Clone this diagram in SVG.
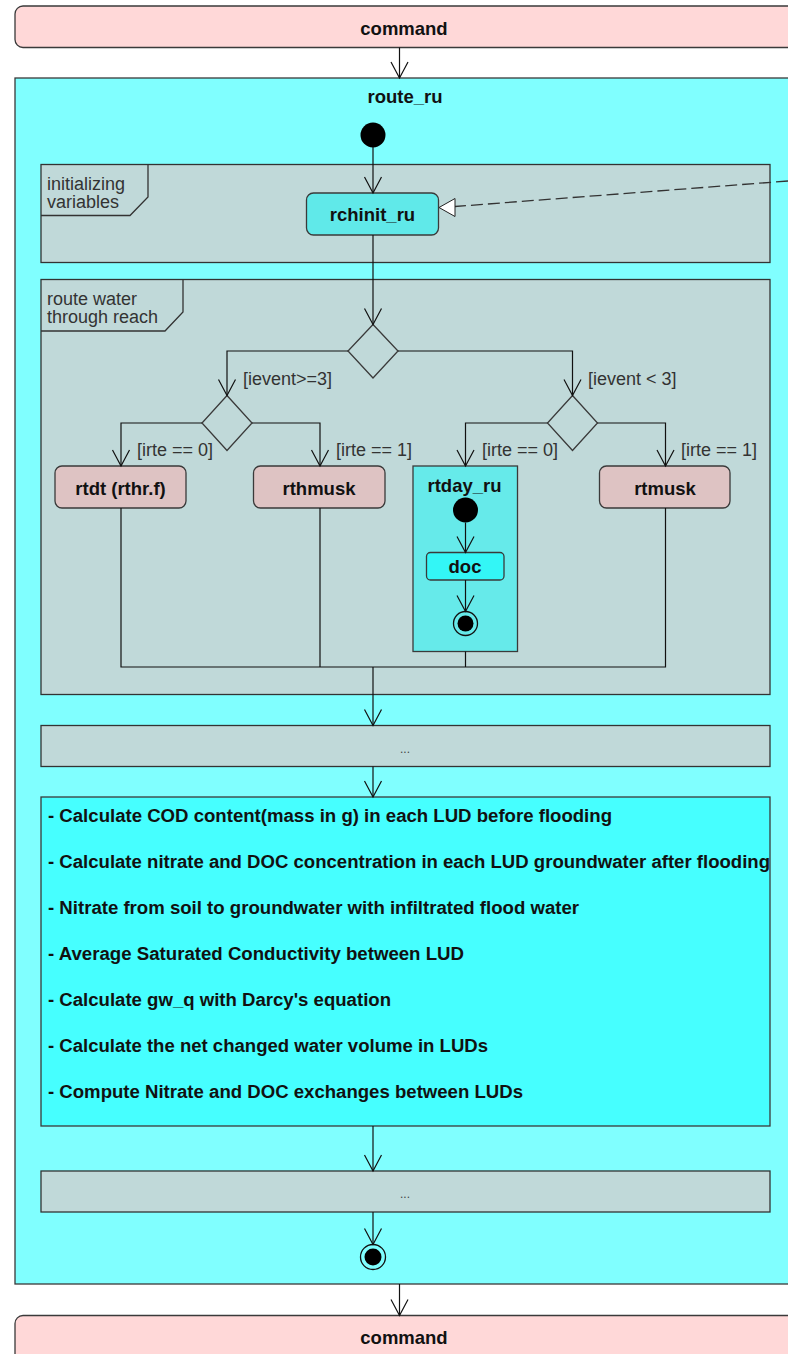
<svg xmlns="http://www.w3.org/2000/svg" width="788" height="1354" viewBox="0 0 788 1354">
  <defs>
    <style>
      .box { stroke: #3a3a3a; stroke-width: 1.3; }
      .cmd { fill: #ffd8d8; }
      .cont { fill: #80ffff; }
      .frame { fill: #c0d9d9; stroke: #333; stroke-width: 1.3; }
      .tab { fill: none; stroke: #333; stroke-width: 1.3; }
      .act { fill: #60e9e9; }
      .pink { fill: #dec3c3; }
      .sub { fill: #66eaea; }
      .doc { fill: #33f6f6; }
      .note { fill: #46ffff; }
      .edge { fill: none; stroke: #111; stroke-width: 1.2; }
      .b { font-family: "Liberation Sans", Arial, sans-serif; font-weight: bold; font-size: 18.5px; fill: #111; }
      .t { font-family: "Liberation Sans", Arial, sans-serif; font-size: 18px; fill: #333; }
      .g { font-family: "Liberation Sans", Arial, sans-serif; font-size: 18px; fill: #333; }
      .d { font-family: "Liberation Sans", Arial, sans-serif; font-size: 12px; fill: #444; }
      .n { font-family: "Liberation Sans", Arial, sans-serif; font-weight: bold; font-size: 18px; fill: #111; }
    </style>
    <marker id="open" viewBox="0 0 20 20" refX="18" refY="10" markerWidth="20" markerHeight="20" markerUnits="userSpaceOnUse" orient="auto">
      <path d="M2,1.5 L18,10 L2,18.5" fill="none" stroke="#111" stroke-width="1.2"/>
    </marker>
  </defs>

  <!-- caller (top) -->
  <g id="command-top">
    <rect class="box cmd" x="15" y="6" width="790" height="41.5" rx="8"/>
    <text class="b" x="404" y="34.5" text-anchor="middle" font-size="19px">command</text>
  </g>

  <!-- enclosing activity -->
  <g id="route_ru">
    <rect class="box cont" x="15" y="78" width="790" height="1206"/>
    <text class="b" x="405" y="103" text-anchor="middle">route_ru</text>
  </g>

  <!-- frames -->
  <g id="frame-init">
    <rect class="frame" x="41" y="164.5" width="729" height="98"/>
    <path class="tab" d="M41,215.5 H130 L148,197 V164.5"/>
    <text class="t" x="47" y="189.5">initializing</text>
    <text class="t" x="47" y="207.5">variables</text>
  </g>
  <g id="frame-route">
    <rect class="frame" x="41" y="279.5" width="729" height="415"/>
    <path class="tab" d="M41,331 H165 L183,312 V279.5"/>
    <text class="t" x="47" y="304.5">route water</text>
    <text class="t" x="47" y="322.5">through reach</text>
  </g>

  <!-- start -->
  <g id="start">
    <circle cx="373" cy="135" r="12.5" fill="#000"/>
  </g>

  <g id="rchinit_ru">
    <rect class="box act" x="306.5" y="193" width="132" height="42" rx="7"/>
    <text class="b" x="372.5" y="220.5" text-anchor="middle">rchinit_ru</text>
  </g>

  <!-- decisions -->
  <g id="decision-event">
    <path class="box" fill="none" d="M373,324.5 L398,351 L373,378 L348,351 Z"/>
  </g>
  <g id="decision-irte-high">
    <path class="box" fill="none" d="M227,395.5 L252,423 L227,450.5 L202,423 Z"/>
  </g>
  <g id="decision-irte-low">
    <path class="box" fill="none" d="M572.5,395.5 L597.5,423 L572.5,450.5 L547.5,423 Z"/>
  </g>

  <!-- routing actions -->
  <g id="rtdt">
    <rect class="box pink" x="55" y="466" width="131" height="42" rx="7"/>
    <text class="b" x="120.5" y="494.5" text-anchor="middle">rtdt (rthr.f)</text>
  </g>
  <g id="rthmusk">
    <rect class="box pink" x="253.5" y="466" width="131.5" height="42" rx="7"/>
    <text class="b" x="319" y="494.5" text-anchor="middle">rthmusk</text>
  </g>
  <g id="rtmusk">
    <rect class="box pink" x="599.5" y="466" width="130.5" height="42" rx="7"/>
    <text class="b" x="665" y="494.5" text-anchor="middle">rtmusk</text>
  </g>

  <g id="rtday_ru">
    <rect class="box sub" x="413" y="466" width="104.5" height="185.5"/>
    <text class="b" x="464.5" y="491.5" text-anchor="middle">rtday_ru</text>
    <circle cx="465.5" cy="510" r="12.5" fill="#000"/>
    <rect class="box doc" x="426.5" y="552.5" width="77.5" height="27.5" rx="4"/>
    <text class="b" x="465" y="573" text-anchor="middle">doc</text>
    <circle cx="465.5" cy="623.5" r="12" fill="none" stroke="#111" stroke-width="1.3"/>
    <circle cx="465.5" cy="623.5" r="8" fill="#000"/>
  </g>

  <!-- placeholder blocks -->
  <g id="pending-1">
    <rect class="frame" x="41" y="725.5" width="729" height="41"/>
    <text class="d" x="405" y="753" text-anchor="middle">...</text>
  </g>

  <g id="exchange-steps">
    <rect class="box note" x="41" y="797" width="729" height="329"/>
    <text class="n" x="48" y="821.5" textLength="564" lengthAdjust="spacingAndGlyphs">- Calculate COD content(mass in g) in each LUD before flooding</text>
    <text class="n" x="48" y="867.5" textLength="722" lengthAdjust="spacingAndGlyphs">- Calculate nitrate and DOC concentration in each LUD groundwater after flooding</text>
    <text class="n" x="48" y="913.5" textLength="531" lengthAdjust="spacingAndGlyphs">- Nitrate from soil to groundwater with infiltrated flood water</text>
    <text class="n" x="48" y="959.5" textLength="416" lengthAdjust="spacingAndGlyphs">- Average Saturated Conductivity between LUD</text>
    <text class="n" x="48" y="1005.5" textLength="343" lengthAdjust="spacingAndGlyphs">- Calculate gw_q with Darcy's equation</text>
    <text class="n" x="48" y="1051.5" textLength="440" lengthAdjust="spacingAndGlyphs">- Calculate the net changed water volume in LUDs</text>
    <text class="n" x="48" y="1097.5" textLength="475" lengthAdjust="spacingAndGlyphs">- Compute Nitrate and DOC exchanges between LUDs</text>
  </g>

  <g id="pending-2">
    <rect class="frame" x="41" y="1171" width="729" height="41"/>
    <text class="d" x="405" y="1198" text-anchor="middle">...</text>
  </g>

  <g id="final">
    <circle cx="373" cy="1257" r="12.5" fill="none" stroke="#111" stroke-width="1.3"/>
    <circle cx="373" cy="1257" r="8.5" fill="#000"/>
  </g>

  <!-- caller (bottom) -->
  <g id="command-bottom">
    <rect class="box cmd" x="15" y="1315.5" width="790" height="50" rx="8"/>
    <text class="b" x="404" y="1343.5" text-anchor="middle" font-size="19px">command</text>
  </g>

  <!-- connectors -->
  <g id="connectors">
    <path class="edge" d="M399.5,47.5 V78" marker-end="url(#open)"/>
    <path class="edge" d="M373,147 V193" marker-end="url(#open)"/>
    <path d="M788,181 L455,206.5" fill="none" stroke="#333" stroke-width="1.3" stroke-dasharray="12,5"/>
    <path d="M439,207.5 L455,198.5 L455,216.5 Z" fill="#fff" stroke="#222" stroke-width="1"/>
    <path class="edge" d="M373,235 V324.5" marker-end="url(#open)"/>
    <path class="edge" d="M348,351 H227 V395.5" marker-end="url(#open)"/>
    <path class="edge" d="M398,351 H572.5 V395.5" marker-end="url(#open)"/>
    <path class="edge" d="M202,423 H121 V466" marker-end="url(#open)"/>
    <path class="edge" d="M252,423 H320 V466" marker-end="url(#open)"/>
    <path class="edge" d="M547.5,423 H465.5 V466" marker-end="url(#open)"/>
    <path class="edge" d="M597.5,423 H665.5 V466" marker-end="url(#open)"/>
    <path class="edge" d="M465.5,522.5 V552.5" marker-end="url(#open)"/>
    <path class="edge" d="M465.5,580 V611.5" marker-end="url(#open)"/>
    <path class="edge" d="M121,508 V667 H665.5 V508 M320,508 V667 M465.5,651.5 V667"/>
    <path class="edge" d="M373,667 V725.5" marker-end="url(#open)"/>
    <path class="edge" d="M373,766.5 V797" marker-end="url(#open)"/>
    <path class="edge" d="M373,1126 V1171" marker-end="url(#open)"/>
    <path class="edge" d="M373,1212 V1244.5" marker-end="url(#open)"/>
    <path class="edge" d="M399.5,1284 V1315.5" marker-end="url(#open)"/>
    <text class="g" x="243" y="385">[ievent&gt;=3]</text>
    <text class="g" x="588" y="385">[ievent &lt; 3]</text>
    <text class="g" x="137" y="456">[irte == 0]</text>
    <text class="g" x="336" y="456">[irte == 1]</text>
    <text class="g" x="482" y="456">[irte == 0]</text>
    <text class="g" x="681" y="456">[irte == 1]</text>
  </g>
</svg>
